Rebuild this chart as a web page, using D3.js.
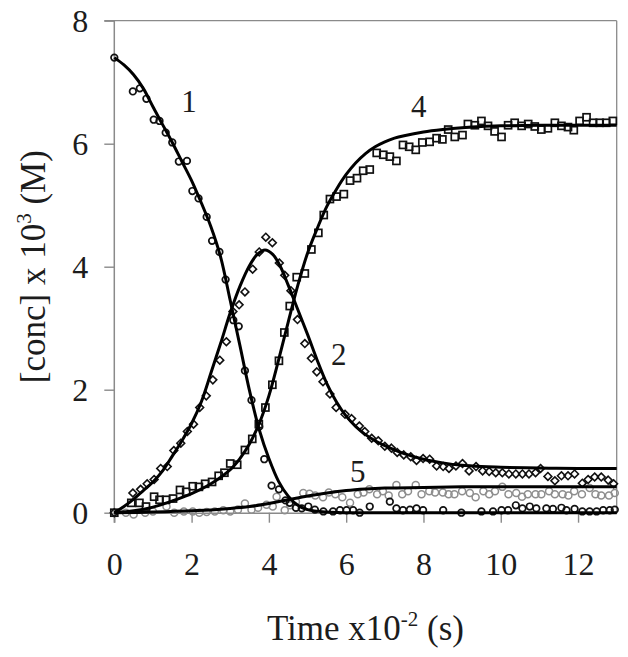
<!DOCTYPE html>
<html><head><meta charset="utf-8">
<script src="https://cdn.jsdelivr.net/npm/d3@7"></script>
<style>html,body{margin:0;padding:0;background:#fff;}svg{display:block;}</style>
</head><body>
<svg id="chart" width="628" height="657"></svg>
<script>
// ---- data (time x10^-2 s, conc x10^3 M) ----
const xTicks = [0, 2, 4, 6, 8, 10, 12];
const yTicks = [0, 2, 4, 6, 8];

const series1 = [[0,7.40],[0.48,6.85],[0.66,6.90],[0.83,6.73],[1.02,6.39],[1.17,6.37],[1.33,6.18],[1.50,6.02],[1.67,5.71],[1.88,5.72],[2.02,5.23],[2.18,5.11],[2.39,4.81],[2.53,4.42],[2.72,4.24],[2.88,3.79],[3.08,3.13],[3.22,3.03],[3.38,2.31],[3.55,1.83],[3.75,1.40],[3.88,0.87],[4.07,0.44],[4.26,0.38],[4.43,0.20],[4.54,0.16],[4.70,0.08],[4.85,0.07],[5.02,0.10],[5.19,0.05],[5.41,0.02],[5.66,0.02],[5.84,0.04],[6.01,0.04],[6.18,0.04],[6.35,0.00],[6.61,0.10],[7.13,0.18],[7.30,0.07],[7.47,0.04],[7.65,0.05],[7.82,0.07],[7.99,0.04],[8.51,0.04],[8.98,0.00],[9.50,0.02],[9.80,0.02],[10.02,0.04],[10.19,0.04],[10.39,0.12],[10.56,0.07],[10.75,0.10],[10.92,0.07],[11.18,0.07],[11.35,0.06],[11.57,0.08],[11.70,0.04],[11.91,0.06],[12.11,0.02],[12.30,0.02],[12.48,0.02],[12.65,0.04],[12.82,0.04],[12.95,0.05]];

const series2 = [[0,0],[0.48,0.32],[0.68,0.38],[0.85,0.47],[1.03,0.54],[1.20,0.72],[1.37,0.75],[1.54,1.01],[1.72,1.13],[1.89,1.32],[2.05,1.44],[2.21,1.71],[2.38,1.90],[2.55,2.16],[2.73,2.48],[2.90,2.78],[3.07,3.27],[3.23,3.38],[3.38,3.59],[3.58,3.96],[3.75,4.24],[3.92,4.48],[4.09,4.39],[4.27,4.06],[4.41,3.86],[4.57,3.61],[4.74,3.14],[4.93,2.75],[5.10,2.51],[5.24,2.29],[5.40,2.13],[5.58,1.93],[5.74,1.71],[5.97,1.60],[6.14,1.53],[6.34,1.41],[6.48,1.32],[6.66,1.21],[6.83,1.17],[7.00,1.08],[7.17,1.05],[7.32,0.98],[7.49,0.94],[7.67,0.91],[7.82,0.85],[7.99,0.88],[8.16,0.87],[8.34,0.76],[8.51,0.75],[8.66,0.72],[8.84,0.76],[9.01,0.80],[9.18,0.68],[9.36,0.75],[9.53,0.68],[9.70,0.67],[9.87,0.65],[10.04,0.65],[10.21,0.63],[10.39,0.63],[10.56,0.63],[10.73,0.63],[10.90,0.65],[11.03,0.72],[11.22,0.59],[11.40,0.52],[11.57,0.60],[11.74,0.60],[11.91,0.63],[12.11,0.48],[12.26,0.54],[12.43,0.58],[12.60,0.58],[12.78,0.53],[12.92,0.47]];

const series4 = [[0,0],[0.44,0.16],[0.65,0.16],[0.82,0.10],[1.03,0.26],[1.17,0.21],[1.34,0.21],[1.52,0.23],[1.70,0.37],[1.86,0.34],[2.03,0.43],[2.19,0.42],[2.35,0.47],[2.53,0.50],[2.70,0.60],[2.85,0.65],[3.00,0.80],[3.18,0.78],[3.38,1.02],[3.57,1.20],[3.74,1.44],[3.91,1.71],[4.09,2.08],[4.26,2.47],[4.40,2.93],[4.54,3.36],[4.72,3.83],[4.93,3.89],[5.10,4.28],[5.28,4.55],[5.42,4.84],[5.58,5.10],[5.75,5.14],[5.94,5.18],[6.10,5.40],[6.28,5.44],[6.44,5.56],[6.61,5.58],[6.79,5.85],[6.96,5.82],[7.13,5.79],[7.30,5.72],[7.47,5.98],[7.63,5.95],[7.80,5.90],[7.97,6.02],[8.16,6.03],[8.34,6.09],[8.49,6.07],[8.64,6.23],[8.81,6.11],[9.01,6.14],[9.15,6.32],[9.33,6.30],[9.50,6.37],[9.67,6.29],[9.84,6.20],[10.02,6.11],[10.19,6.30],[10.36,6.34],[10.54,6.29],[10.71,6.32],[10.88,6.28],[11.05,6.23],[11.22,6.25],[11.40,6.34],[11.57,6.29],[11.74,6.27],[11.89,6.22],[12.04,6.37],[12.22,6.43],[12.39,6.34],[12.56,6.34],[12.73,6.34],[12.90,6.37]];

const series5 = [[0.30,0.00],[0.50,-0.03],[0.80,0.00],[1.00,0.02],[1.35,0.10],[1.55,0.00],[1.80,0.02],[2.03,0.02],[2.20,0.00],[2.39,0.01],[2.60,0.02],[2.82,0.04],[3.00,0.02],[3.20,0.05],[3.38,0.15],[3.55,0.05],[3.72,0.08],[3.94,0.13],[4.10,0.10],[4.20,0.26],[4.41,0.04],[4.55,0.12],[4.70,0.18],[4.89,0.32],[5.05,0.31],[5.20,0.28],[5.40,0.25],[5.55,0.33],[5.72,0.30],[5.90,0.25],[6.10,0.16],[6.30,0.30],[6.45,0.33],[6.60,0.38],[6.80,0.30],[6.95,0.35],[7.10,0.28],[7.30,0.45],[7.45,0.30],[7.60,0.35],[7.80,0.45],[7.95,0.30],[8.15,0.35],[8.30,0.33],[8.50,0.33],[8.65,0.30],[8.80,0.30],[9.00,0.35],[9.20,0.32],[9.35,0.25],[9.55,0.35],[9.70,0.30],[9.85,0.35],[10.04,0.42],[10.20,0.30],[10.40,0.32],[10.55,0.26],[10.70,0.30],[10.90,0.30],[11.05,0.30],[11.25,0.35],[11.40,0.30],[11.60,0.30],[11.75,0.28],[11.90,0.35],[12.10,0.30],[12.30,0.40],[12.45,0.30],[12.60,0.28],[12.80,0.28],[12.95,0.32]];

const fit1 = [[0,7.40],[0.25,7.28],[0.5,7.12],[0.75,6.90],[1,6.60],[1.25,6.31],[1.5,6.02],[1.75,5.71],[2,5.40],[2.25,5.04],[2.5,4.65],[2.75,4.16],[3,3.45],[3.25,2.72],[3.5,1.98],[3.75,1.35],[4,0.88],[4.25,0.51],[4.5,0.27],[4.75,0.12],[5,0.05],[5.5,0.01],[6,0],[6.5,0],[7,0],[8,0],[10,0],[13,0]];
const fit2 = [[0,0],[0.25,0.10],[0.5,0.22],[0.75,0.36],[1,0.50],[1.25,0.68],[1.5,0.92],[1.75,1.17],[2,1.45],[2.25,1.80],[2.5,2.27],[2.75,2.75],[3,3.25],[3.25,3.68],[3.5,4.02],[3.7,4.20],[3.9,4.27],[4.1,4.20],[4.3,4.00],[4.5,3.70],[4.75,3.30],[5,2.90],[5.25,2.48],[5.5,2.10],[5.75,1.80],[6,1.57],[6.25,1.40],[6.5,1.27],[6.75,1.17],[7,1.09],[7.5,0.96],[8,0.87],[8.5,0.81],[9,0.77],[9.5,0.75],[10,0.74],[11,0.725],[12,0.72],[13,0.72]];
const fit4 = [[0,0],[0.5,0.03],[1,0.09],[1.5,0.19],[2,0.31],[2.5,0.47],[3,0.70],[3.25,0.88],[3.5,1.12],[3.75,1.45],[4,1.90],[4.25,2.48],[4.5,3.10],[4.75,3.70],[5,4.22],[5.25,4.62],[5.5,4.98],[5.75,5.26],[6,5.50],[6.25,5.69],[6.5,5.84],[6.75,5.95],[7,6.03],[7.25,6.09],[7.5,6.13],[8,6.19],[8.5,6.23],[9,6.26],[9.5,6.28],[10,6.29],[11,6.30],[13,6.30]];
const fit5 = [[0,0],[1,0.01],[2,0.03],[3,0.07],[3.5,0.10],[4,0.15],[4.5,0.21],[5,0.27],[5.5,0.32],[6,0.36],[6.5,0.385],[7,0.40],[8,0.41],[9,0.42],[10,0.42],[13,0.42]];

const curveLabels = ["1", "4", "2", "5"];
const curveLabelPos = [[1.93,6.52],[7.88,6.43],[5.81,2.40],[6.30,0.50]];

// ---- layout ----
const W = 628, H = 657;
const M = {left: 114.3, top: 20.7, right: 11.3, bottom: 144.3};
const iw = W - M.left - M.right, ih = H - M.top - M.bottom;
const svg = d3.select("#chart");
const g = svg.append("g").attr("transform", `translate(${M.left},${M.top})`);
const x = d3.scaleLinear().domain([0, 13]).range([0, iw]);
const y = d3.scaleLinear().domain([0, 8]).range([ih, 0]);
const FONT = "'Liberation Serif', 'DejaVu Serif', serif";
const AXC = "#8a8a8a";
const TXT = "#1c1c1c";

// frame: top & right
g.append("line").attr("x1", -10).attr("x2", iw).attr("y1", 0).attr("y2", 0).attr("stroke", AXC).attr("stroke-width", 1.3);
g.append("line").attr("x1", iw).attr("x2", iw).attr("y1", 0).attr("y2", ih).attr("stroke", AXC).attr("stroke-width", 1.3);

// axes
const xa = g.append("g").attr("transform", `translate(0,${ih})`)
  .call(d3.axisBottom(x).tickValues(xTicks).tickSize(10).tickSizeOuter(0).tickFormat(d3.format("d")));
xa.selectAll("text").attr("y", 62).attr("dy", 0);
const ya = g.append("g")
  .call(d3.axisLeft(y).tickValues(yTicks).tickSize(10).tickSizeOuter(0).tickFormat(d3.format("d")));
ya.selectAll("text").attr("x", -26).attr("dy", "0.34em");
[xa, ya].forEach(a => {
  a.select(".domain").attr("stroke", AXC).attr("stroke-width", 1.5);
  a.selectAll(".tick line").attr("stroke", AXC).attr("stroke-width", 1.4);
  a.selectAll("text").attr("font-family", FONT).attr("font-size", 32).attr("fill", TXT);
});
ya.select(".domain").attr("d", `M0,0V${ih + 10}`);

// markers
g.append("g").selectAll("circle").data(series5).join("circle")
  .attr("cx", d => x(d[0])).attr("cy", d => y(d[1])).attr("r", 3.5)
  .attr("fill", "none").attr("stroke", "#8e8e8e").attr("stroke-width", 1.5);
g.append("g").selectAll("circle").data(series1).join("circle")
  .attr("cx", d => x(d[0])).attr("cy", d => y(d[1])).attr("r", 3.3)
  .attr("fill", "none").attr("stroke", "#111").attr("stroke-width", 1.7);
const dsz = 3.9;
g.append("g").selectAll("path").data(series2).join("path")
  .attr("d", d => { const cx = x(d[0]), cy = y(d[1]); return `M${cx},${cy - dsz}L${cx + dsz},${cy}L${cx},${cy + dsz}L${cx - dsz},${cy}Z`; })
  .attr("fill", "none").attr("stroke", "#111").attr("stroke-width", 1.6);
const ssz = 7;
g.append("g").selectAll("rect").data(series4).join("rect")
  .attr("x", d => x(d[0]) - ssz / 2).attr("y", d => y(d[1]) - ssz / 2).attr("width", ssz).attr("height", ssz)
  .attr("fill", "none").attr("stroke", "#111").attr("stroke-width", 1.7);

// fit lines
const line = d3.line().x(d => x(d[0])).y(d => y(d[1])).curve(d3.curveCatmullRom.alpha(0.5));
[fit5, fit1, fit2, fit4].forEach(f => {
  g.append("path").attr("d", line(f)).attr("fill", "none").attr("stroke", "#000").attr("stroke-width", 3)
    .attr("stroke-linejoin", "round");
});

// curve labels
g.append("g").selectAll("text").data(curveLabels).join("text")
  .attr("x", (d, i) => x(curveLabelPos[i][0])).attr("y", (d, i) => y(curveLabelPos[i][1]))
  .attr("text-anchor", "middle").attr("font-family", FONT).attr("font-size", 31).attr("fill", TXT)
  .text(d => d);

// axis titles
const xt = svg.append("text").attr("x", M.left + iw / 2).attr("y", 640).attr("text-anchor", "middle")
  .attr("font-family", FONT).attr("font-size", 35).attr("fill", TXT);
xt.append("tspan").text("Time x10");
xt.append("tspan").attr("font-size", 21).attr("dy", -14).text("-2");
xt.append("tspan").attr("dy", 14).text(" (s)");

const yt = svg.append("text").attr("transform", `translate(45,${M.top + ih / 2}) rotate(-90)`).attr("text-anchor", "middle")
  .attr("font-family", FONT).attr("font-size", 35).attr("fill", TXT);
yt.append("tspan").text("[conc] x 10");
yt.append("tspan").attr("font-size", 21).attr("dy", -14).text("3");
yt.append("tspan").attr("dy", 14).text(" (M)");
</script>
</body></html>
